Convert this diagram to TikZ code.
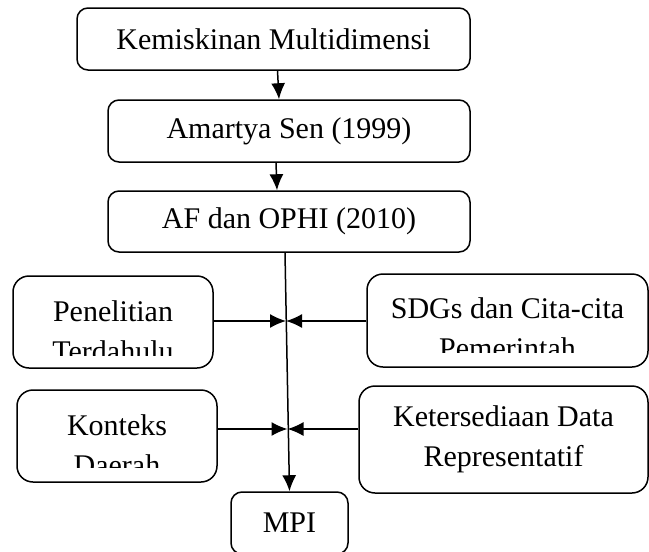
\documentclass[tikz,border=0pt]{standalone}
\usepackage{fontspec}
\setmainfont{Liberation Serif}
\usetikzlibrary{arrows.meta,calc}
\tikzstyle{line} = [draw, line width=1.5pt, -{Latex[length=16pt,width=14pt]}]
\tikzstyle{box} = [rectangle, rounded corners=11pt, draw=black, line width=1.5pt,
                   inner sep=0pt, align=center, font={\fontsize{30}{40}\selectfont}]
\tikzstyle{tallbox} = [box, rounded corners=16pt]
\tikzstyle{cut} = [inner sep=0pt, align=center, font={\fontsize{30}{40}\selectfont}]

\begin{document}
\begin{tikzpicture}[x=1pt, y=-1pt]
      \useasboundingbox (0,0) rectangle (649,552);
      \node [box, minimum width=393, minimum height=62] at (273.5,39) (kemiskinan)
        {Kemiskinan Multidimensi};
      \node [box, minimum width=362, minimum height=62] at (289,131) (amartya)
        {Amartya Sen (1999)};
      \node [box, minimum width=362, minimum height=61] at (289,221.5) (afophi)
        {AF dan OPHI (2010)};
      \node [tallbox, minimum width=200, minimum height=92] at (113,322) (penelitian) {};
      \node [tallbox, minimum width=281, minimum height=93] at (507.5,320.5) (sdgs) {};
      \node [tallbox, minimum width=200, minimum height=92] at (117,436) (konteks) {};
      \node [tallbox, minimum width=289, minimum height=107] at (503.5,439.5) (ketersediaan)
        {Ketersediaan Data\\
          Representatif};
      \node [box, minimum width=117, minimum height=62] at (289.5,523) (mpi)
        {MPI};
      \begin{scope}
        \clip ($(penelitian.south west)+(0,-13)$) rectangle (penelitian.north east);
        \node [cut, yshift=-9pt] at (penelitian) (penelitiantext)
          {Penelitian\\
            Terdahulu};
      \end{scope}
      \begin{scope}
        \clip ($(sdgs.south west)+(0,-15)$) rectangle (sdgs.north east);
        \node [cut, yshift=-7.5pt] at (sdgs) (sdgstext)
          {SDGs dan Cita-cita\\
            Pemerintah};
      \end{scope}
      \begin{scope}
        \clip ($(konteks.south west)+(0,-15)$) rectangle (konteks.north east);
        \node [cut, yshift=-9pt] at (konteks) (kontekstext)
          {Konteks\\
            Daerah};
      \end{scope}
      \coordinate (highjoin) at (286,321);
      \coordinate (lowjoin) at (287.5,429);
      \path [line] ($(kemiskinan.south)+(4,0)$) -- ($(amartya.north)+(-10,0)$);
      \path [line] ($(amartya.south)+(-13,0)$) -- ($(afophi.north)+(-12,0)$);
      \path [line] ($(afophi.south)+(-4,0)$) -- (mpi.north);
      \path [line] (penelitian.east |- highjoin) -- (highjoin);
      \path [line] (sdgs.west |- highjoin) -- (highjoin);
      \path [line] (konteks.east |- lowjoin) -- (lowjoin);
      \path [line] (ketersediaan.west |- lowjoin) -- (lowjoin);
    \end{tikzpicture}
\end{document}
